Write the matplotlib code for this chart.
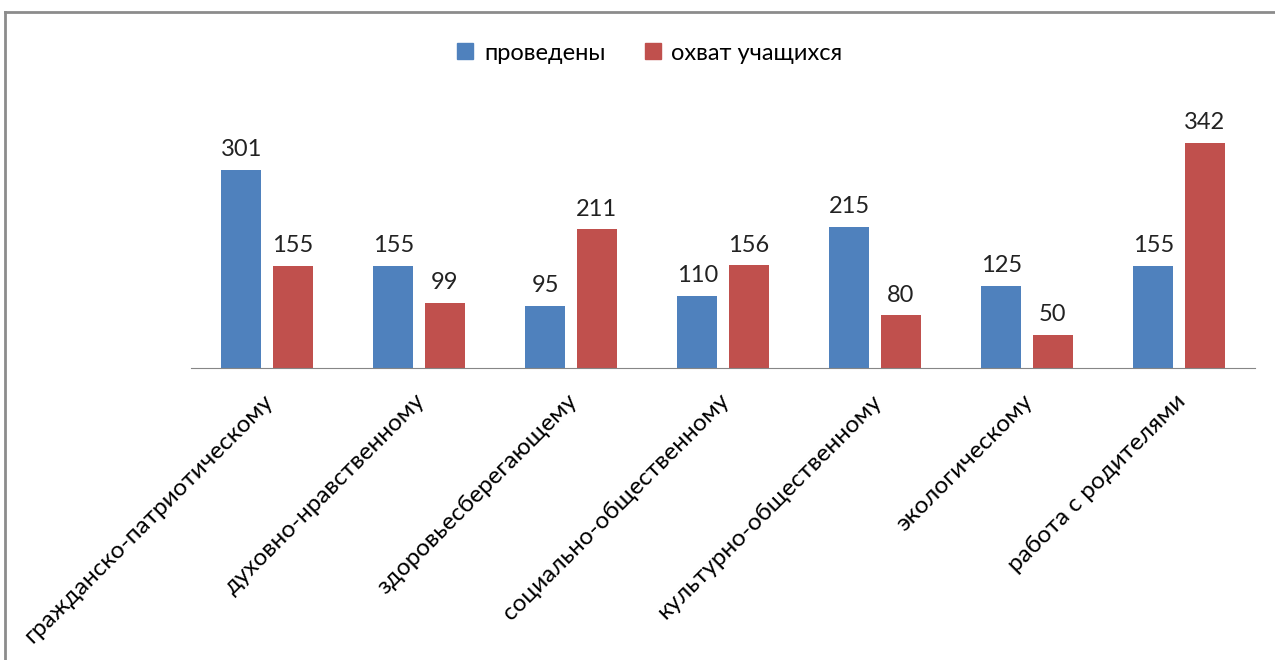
import numpy as np
import matplotlib.pyplot as plt
from matplotlib.lines import Line2D

categories = [
    "гражданско-патриотическому",
    "духовно-нравственному",
    "здоровьесберегающему",
    "социально-общественному",
    "культурно-общественному",
    "экологическому",
    "работа с родителями",
]
conducted = [301, 155, 95, 110, 215, 125, 155]
students = [155, 99, 211, 156, 80, 50, 342]
series_names = ["проведены", "охват учащихся"]

BLUE = "#4F81BD"
RED = "#C0504D"
FONT = "Lato"

fig = plt.figure(figsize=(12.75, 6.6), dpi=100)
ax = fig.add_axes([191 / 1275, 1 - 368 / 660, 1064 / 1275, 238 / 660])

x = np.arange(len(categories))
w = 0.263
off = 0.168
b1 = ax.bar(x - off, conducted, w, color=BLUE)
b2 = ax.bar(x + off, students, w, color=RED)

for bars in (b1, b2):
    for rect in bars:
        ax.annotate(f"{int(rect.get_height())}",
                    (rect.get_x() + rect.get_width() / 2, rect.get_height()),
                    xytext=(0, 7), textcoords="offset points",
                    ha="center", va="bottom", fontsize=17, family=FONT,
                    color="#222222", annotation_clip=False)

ax.set_xlim(-0.5, len(categories) - 0.5)
ax.set_ylim(0, 362)
for s in ("top", "right", "left"):
    ax.spines[s].set_visible(False)
ax.spines["bottom"].set_color("#868686")
ax.set_yticks([])
ax.set_xticks(x - 0.03)
ax.set_xticklabels(categories, rotation=45, ha="right", va="top",
                   rotation_mode="anchor", fontsize=17.5, family=FONT)
ax.tick_params(axis="x", length=0, pad=16)

handles = [Line2D([], [], marker="s", ls="", ms=11, color=BLUE),
           Line2D([], [], marker="s", ls="", ms=11, color=RED)]
fig.legend(handles, series_names, loc="center", bbox_to_anchor=(642 / 1275, 1 - 53 / 660),
           ncol=2, frameon=False, prop={"family": FONT, "size": 17},
           handletextpad=-0.2, columnspacing=1.0)

# outer frame (top and left edges visible in the crop)
fig.add_artist(Line2D([5 / 1275, 1], [1 - 12 / 660, 1 - 12 / 660],
                      transform=fig.transFigure, color="#8c8c8c", lw=2))
fig.add_artist(Line2D([5 / 1275, 5 / 1275], [0, 1 - 12 / 660],
                      transform=fig.transFigure, color="#8c8c8c", lw=2))

fig.savefig("out.png", dpi=100)
